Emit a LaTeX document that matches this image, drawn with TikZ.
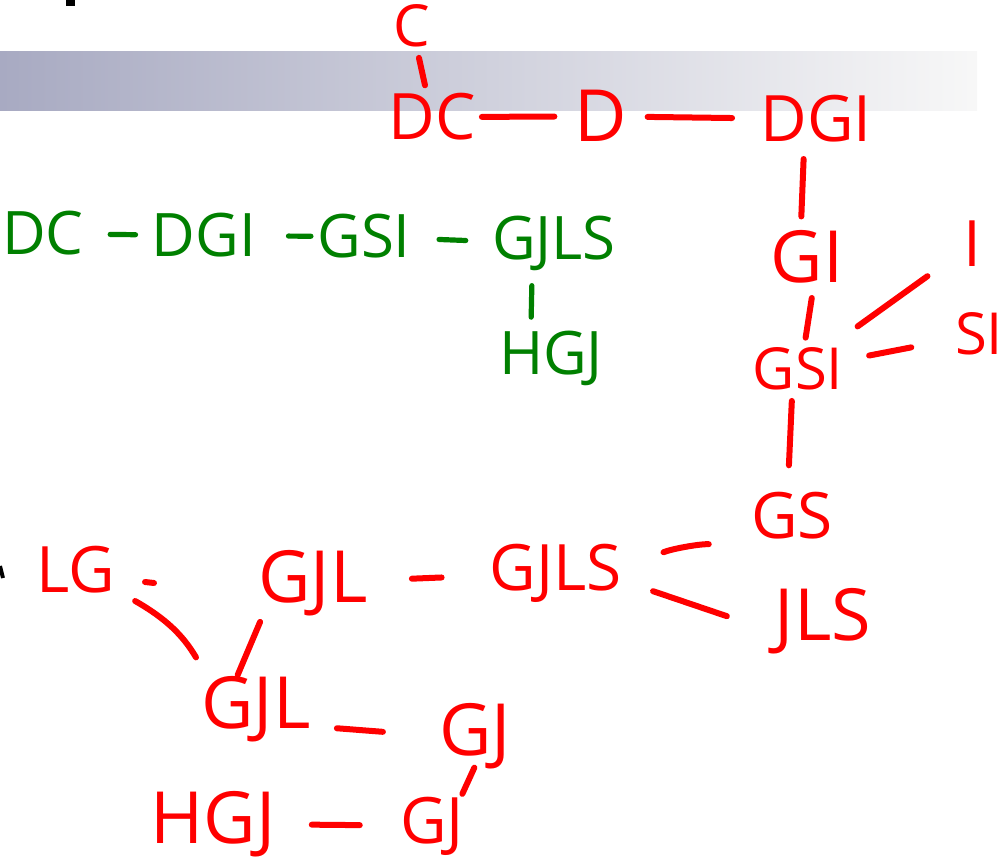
\documentclass[tikz,border=0pt]{standalone}
\usepackage{fontspec}
\setmainfont{Open Sans}
\usepackage{tikz}
\usetikzlibrary{calc}
\definecolor{penred}{RGB}{255,0,0}
\definecolor{pengreen}{RGB}{0,128,0}
\definecolor{barblue}{RGB}{168,170,194}
\tikzstyle{word}=[
    anchor=base,    % sit the letters on their baseline
    inner sep=3pt,  % keep the pen strokes just off the letters
    font=\fontsize{32}{38}\selectfont]
\tikzstyle{redword}=[word, text=penred]
\tikzstyle{greenword}=[word, text=pengreen, font=\fontsize{30}{36}\selectfont]
\tikzstyle{smallword}=[font=\fontsize{29}{35}\selectfont]
\tikzstyle{bigword}=[font=\fontsize{36}{43}\selectfont]
\tikzstyle{redline}=[
    penred,         % same pen as the red words
    line width=3pt,
    line cap=round]
\tikzstyle{greenline}=[pengreen, line width=2.6pt, line cap=round]

\begin{document}
\begin{tikzpicture}[x=0.5pt, y=-0.5pt]
        \useasboundingbox (0,0) rectangle (1000,860);
        % Title bar and the cut-off bits of slide text
        \shade[left color=barblue, right color=white!97!black] (0,52) rectangle (977,111);
        \fill (66,0) rectangle (75,6);
        \draw[line width=2pt] (0,566) -- (3,578);

        % Draw the red words.
        \node[redword, smallword] (c) at (412,47) {C};
        \node[redword] (dc) at (432,140) {DC};
        \node[redword, bigword] (d) at (601,142) {D};
        \node[redword] (dgi) at (816,142) {DGI};
        \node[redword, bigword] (gi) at (807,283) {GI};
        \node[redword] (i) at (972,267) {I};
        \node[redword, smallword] (si) at (979,355) {SI};
        \node[redword, smallword] (gsi) at (798,390) {GSI};
        \node[redword] (gs) at (792,538) {GS};
        \node[redword, bigword] (jls) at (823,640) {JLS};
        \node[redword] (gjls) at (556,590) {GJLS};
        \node[redword, bigword] (gjla) at (313,602) {GJL};
        \node[redword] (lg) at (76,592) {LG};
        \node[redword, bigword] (gjlb) at (256,728) {GJL};
        \node[redword, bigword] (gja) at (475,755) {GJ};
        \node[redword] (gjb) at (432,843) {GJ};
        \node[redword, bigword] (hgj) at (213,843) {HGJ};
        \coordinate (lgtick) at (145,582);

        % Draw the green words.
        \node[greenword] (pdc) at (43,255) {DC};
        \node[greenword] (pdgi) at (204,257) {DGI};
        \node[greenword] (pgsi) at (364,258) {GSI};
        \node[greenword] (pgjls) at (554,260) {GJLS};
        \node[greenword] (phgj) at (551,375) {HGJ};

        % Connect the red words
        \path (c) edge[redline, shorten <=2pt, shorten >=1pt] (dc);
        \path (dc) edge[redline, shorten >=7pt] (d);
        \path (d) edge[redline, shorten <=7pt, shorten >=11pt] (dgi);
        \path ([xshift=-6pt]dgi.south) edge[redline, shorten <=5pt, shorten >=4pt] ([xshift=-3pt]gi.north);
        \path ([xshift=3pt]gi.south) edge[redline, shorten <=4pt, shorten >=2pt] ([xshift=3.5pt]gsi.north);
        \path (gsi) edge[redline, shorten <=13pt, shorten >=18pt] (i);
        \path (gsi) edge[redline, shorten <=10pt, shorten >=19pt] (si);
        \path ([xshift=-3pt]gsi.south) edge[redline, shorten <=2pt, shorten >=10pt] ([xshift=-2pt]gs.north);
        \path (gs.south west) edge[redline, bend right=12, shorten <=18pt, shorten >=19pt] ([yshift=3pt]gjls.east);
        \path ([yshift=-5pt]gjls.east) edge[redline, shorten <=13pt, shorten >=22pt] (jls.190);
        \path (gjla) edge[redline, shorten <=19pt, shorten >=21pt] (gjls);
        \path ([xshift=4pt]gjla.south west) edge[redline, shorten <=0pt, shorten >=-3pt] ([xshift=-8pt]gjlb.north);
        \path ([xshift=5pt]lg.south east) edge[redline, bend left=15, shorten <=2pt, shorten >=7pt] ([xshift=4pt]gjlb.north west);
        \draw[redline] (lgtick) -- ++(9,1);
        \path ([yshift=-9pt]gjlb.east) edge[redline, shorten <=10pt, shorten >=25pt] (gja.west);
        \path ([xshift=-2pt]gja.south) edge[redline, shorten <=-4pt, shorten >=-2pt] ([xshift=16pt]gjb.north);
        \path (hgj) edge[redline, shorten <=15pt, shorten >=17pt] (gjb);

        % Connect the green words
        \path (pdc) edge[greenline, shorten <=10pt, shorten >=5pt] (pdgi);
        \path (pdgi) edge[greenline, shorten <=13pt, shorten >=0pt] (pgsi);
        \path (pgsi) edge[greenline, shorten <=11pt, shorten >=10pt] (pgjls);
        \path ([xshift=-11pt]pgjls.south) edge[greenline, shorten <=4pt, shorten >=4pt] ([xshift=-10pt]phgj.north);
\end{tikzpicture}
\end{document}
